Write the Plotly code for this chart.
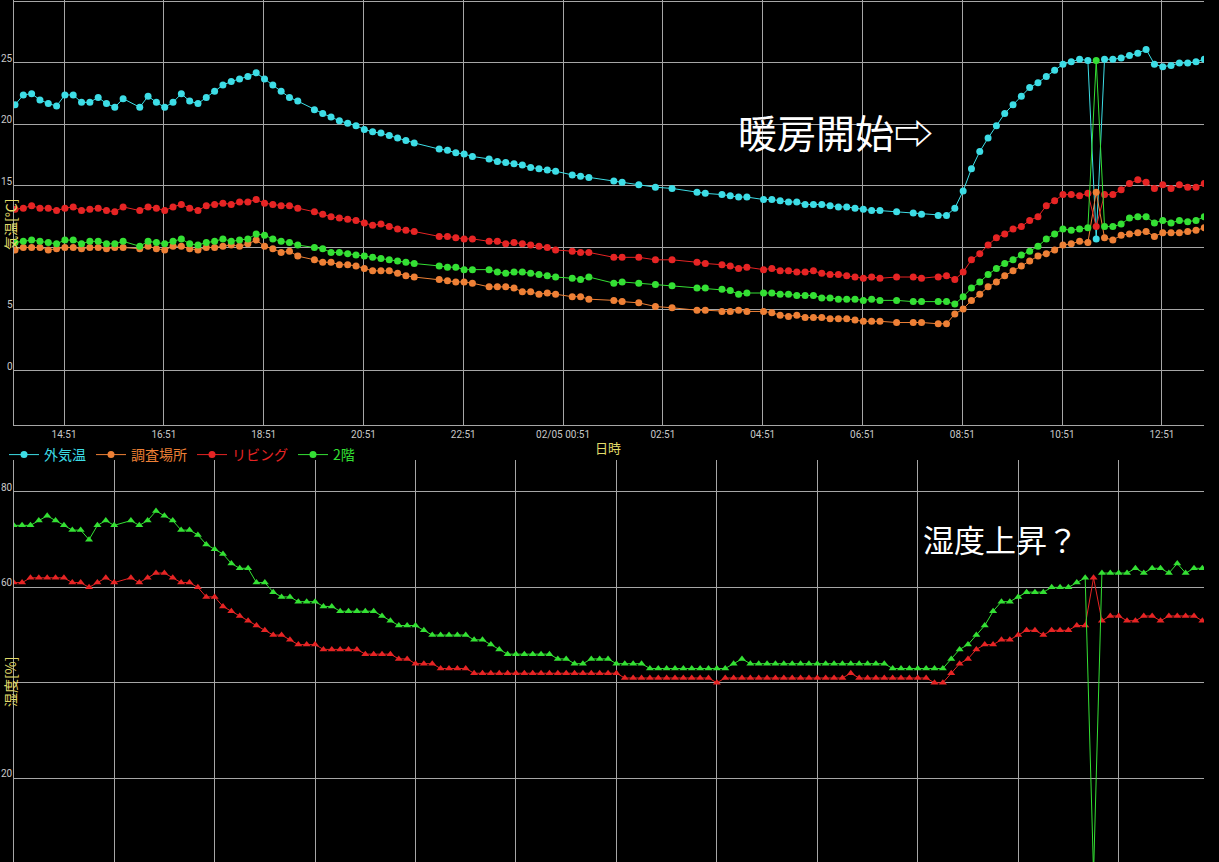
import pandas as pd
import plotly.graph_objects as go

W, H = 1219, 862
N = None

# ---------------- data ----------------
temp_times = pd.date_range("2024-02-04 13:52", periods=144, freq="10min")

outdoor_temp = [
    21.6, 22.4, 22.5, 22.0, 21.7, 21.5, 22.4, 22.4, 21.8, 21.8,
    22.2, 21.7, 21.4, 22.1, N, 21.4, 22.3, 21.8, 21.4, 21.8,
    22.5, 21.9, 21.7, 22.2, 22.7, 23.2, 23.5, 23.7, 23.9, 24.2,
    23.7, 23.2, 22.7, 22.2, 21.9, N, 21.2, 20.9, 20.6, 20.3,
    20.1, 19.9, 19.6, 19.4, 19.3, 19.1, 18.9, 18.7, 18.5, N,
    N, 18.0, 17.9, 17.7, 17.6, 17.4, N, 17.2, 17.0, 16.9,
    16.8, 16.7, 16.5, 16.4, 16.3, 16.2, N, 15.9, 15.8, 15.7,
    N, N, 15.4, 15.3, N, 15.1, N, 14.9, N, 14.8,
    N, N, 14.5, 14.4, N, 14.3, 14.2, 14.1, 14.1, N,
    13.9, 13.9, 13.8, 13.7, 13.7, 13.5, 13.5, 13.5, 13.4, 13.3,
    13.3, 13.2, 13.1, 13.0, 13.0, N, 12.9, N, 12.8, 12.7,
    N, 12.6, 12.6, 13.2, 14.6, 16.4, 17.8, 18.9, 19.9, 20.9,
    21.6, 22.3, 23.0, 23.4, 23.9, 24.4, 24.9, 25.1, 25.3, 25.2,
    10.7, 25.3, 25.3, 25.4, 25.6, 25.8, 26.1, 24.9, 24.7, 24.8,
    25.0, 25.0, 25.1, 25.3,
]
survey_temp = [
    9.8, 10.0, 10.0, 10.0, 9.8, 9.9, 10.0, 10.0, 9.9, 10.0,
    10.0, 9.9, 10.0, 10.0, N, 9.9, 10.1, 9.9, 9.8, 10.1,
    10.1, 9.9, 9.8, 10.0, 10.0, 10.1, 10.2, 10.1, 10.3, 10.6,
    10.1, 9.9, 9.6, 9.7, 9.3, N, 9.0, 8.8, 8.8, 8.6,
    8.6, 8.5, 8.3, 8.1, 8.1, 8.1, 7.9, 7.7, 7.6, N,
    N, 7.4, 7.3, 7.2, 7.2, 7.1, N, 6.8, 6.8, 6.8,
    6.7, 6.4, 6.4, 6.2, 6.3, 6.2, N, 6.0, 6.0, 5.8,
    N, N, 5.7, 5.6, N, 5.5, N, 5.2, N, 5.1,
    N, N, 4.9, 4.9, N, 4.8, 4.8, 4.9, 4.8, N,
    4.8, 4.7, 4.5, 4.4, 4.5, 4.3, 4.3, 4.3, 4.2, 4.2,
    4.2, 4.1, 4.0, 4.0, 4.0, N, 3.9, N, 3.9, 3.9,
    N, 3.8, 3.8, 4.6, 5.0, 5.7, 6.2, 6.8, 7.2, 7.7,
    8.1, 8.5, 8.9, 9.3, 9.5, 9.8, 10.2, 10.3, 10.5, 10.4,
    14.5, 10.8, 10.6, 11.0, 11.1, 11.2, 11.3, 10.9, 11.2, 11.2,
    11.2, 11.3, 11.4, 11.6,
]
living_temp = [
    13.1, 13.2, 13.4, 13.2, 13.2, 13.0, 13.2, 13.3, 13.0, 13.1,
    13.2, 13.0, 12.9, 13.3, N, 13.0, 13.3, 13.2, 13.0, 13.3,
    13.5, 13.2, 13.0, 13.4, 13.5, 13.6, 13.5, 13.7, 13.7, 13.9,
    13.6, 13.5, 13.4, 13.4, 13.2, N, 12.9, 12.7, 12.5, 12.4,
    12.3, 12.2, 12.0, 11.8, 11.9, 11.7, 11.5, 11.4, 11.3, N,
    N, 10.9, 10.9, 10.8, 10.7, 10.7, N, 10.5, 10.5, 10.3,
    10.4, 10.3, 10.2, 10.1, 10.0, 9.8, N, 9.7, 9.6, 9.6,
    N, N, 9.2, 9.2, N, 9.2, N, 9.0, N, 9.0,
    N, N, 8.8, 8.7, N, 8.6, 8.5, 8.3, 8.4, N,
    8.2, 8.3, 8.1, 8.1, 8.0, 8.0, 8.1, 7.9, 7.8, 7.8,
    7.7, 7.6, 7.5, 7.6, 7.5, N, 7.6, N, 7.6, 7.5,
    N, 7.6, 7.7, 7.4, 8.0, 9.0, 9.5, 10.2, 10.8, 11.1,
    11.5, 11.7, 12.2, 12.5, 13.4, 13.8, 14.3, 14.3, 14.2, 14.4,
    11.7, 14.3, 14.3, 14.7, 15.2, 15.5, 15.3, 14.8, 15.1, 14.8,
    15.1, 14.9, 14.9, 15.2,
]
upstairs_temp = [
    10.4, 10.5, 10.6, 10.5, 10.4, 10.3, 10.6, 10.6, 10.3, 10.5,
    10.5, 10.3, 10.3, 10.5, N, 10.1, 10.5, 10.4, 10.3, 10.5,
    10.7, 10.3, 10.2, 10.4, 10.5, 10.7, 10.5, 10.6, 10.7, 11.1,
    11.0, 10.7, 10.5, 10.4, 10.2, N, 10.0, 9.9, 9.6, 9.6,
    9.5, 9.4, 9.3, 9.2, 9.1, 9.0, 8.9, 8.8, 8.7, N,
    N, 8.5, 8.4, 8.4, 8.2, 8.2, N, 8.2, 8.0, 7.9,
    8.0, 8.0, 7.9, 7.8, 7.7, 7.6, N, 7.5, 7.4, 7.6,
    N, N, 7.1, 7.2, N, 7.1, N, 7.0, N, 6.9,
    N, N, 6.7, 6.7, N, 6.6, 6.5, 6.2, 6.3, N,
    6.3, 6.3, 6.2, 6.2, 6.1, 6.1, 6.1, 5.9, 5.9, 5.8,
    5.8, 5.8, 5.7, 5.8, 5.7, N, 5.7, N, 5.6, 5.6,
    N, 5.6, 5.6, 5.4, 6.0, 6.7, 7.2, 7.8, 8.3, 8.7,
    9.0, 9.4, 9.7, 10.1, 10.7, 11.1, 11.5, 11.4, 11.5, 11.6,
    25.2, 11.7, 11.7, 11.9, 12.4, 12.5, 12.5, 12.0, 12.2, 12.0,
    12.2, 12.1, 12.2, 12.5,
]

hum_times = temp_times[1:]
living_hum = [
    61, 61, 62, 62, 62, 62, 62, 61, 61, 60,
    61, 62, 61, N, 62, 61, 62, 63, 63, 62,
    61, 61, 60, 58, 58, 56, 55, 54, 53, 52,
    51, 50, 50, 49, 48, 48, 48, 47, 47, 47,
    47, 47, 46, 46, 46, 46, 45, 45, 44, 44,
    44, 43, 43, 43, 43, 42, 42, 42, 42, 42,
    42, 42, 42, 42, 42, 42, 42, 42, 42, 42,
    42, 42, 42, 41, 41, 41, 41, 41, 41, 41,
    41, 41, 41, 41, 40, 41, 41, 41, 41, 41,
    41, 41, 41, 41, 41, 41, 41, 41, 41, 41,
    42, 41, 41, 41, 41, 41, 41, 41, 41, 41,
    40, 40, 42, 44, 45, 47, 48, 48, 49, 49,
    50, 51, 51, 50, 51, 51, 51, 52, 52, 62,
    53, 54, 54, 53, 53, 54, 54, 53, 54, 54,
    54, 54, 53,
]
upstairs_hum = [
    73, 73, 73, 74, 75, 74, 73, 72, 72, 70,
    73, 74, 73, N, 74, 73, 74, 76, 75, 74,
    72, 72, 71, 69, 68, 67, 65, 64, 64, 61,
    61, 59, 58, 58, 57, 57, 57, 56, 56, 55,
    55, 55, 55, 55, 54, 53, 52, 52, 52, 51,
    50, 50, 50, 50, 50, 49, 49, 48, 47, 46,
    46, 46, 46, 46, 46, 45, 45, 44, 44, 45,
    45, 45, 44, 44, 44, 44, 43, 43, 43, 43,
    43, 43, 43, 43, 43, 43, 44, 45, 44, 44,
    44, 44, 44, 44, 44, 44, 44, 44, 44, 44,
    44, 44, 44, 44, 44, 43, 43, 43, 43, 43,
    43, 43, 45, 47, 48, 50, 52, 55, 57, 57,
    58, 59, 59, 59, 60, 60, 60, 61, 62, 0,
    63, 63, 63, 63, 64, 63, 64, 64, 63, 65,
    63, 64, 64,
]

temp_tickvals = pd.date_range("2024-02-04 14:51", periods=12, freq="2h")
temp_ticktext = ["14:51", "16:51", "18:51", "20:51", "22:51", "02/05 00:51",
                 "02:51", "04:51", "06:51", "08:51", "10:51", "12:51"]
temp_ylabels = [0, 5, 15, 20, 25]
hum_gridvals = pd.date_range("2024-02-04 16:02", periods=11, freq="2h")
hum_ylabels = [20, 60, 80]

series_names = ["外気温", "調査場所", "リビング", "2階"]
series_colors = ["#3ddde6", "#ee8036", "#e62424", "#34e034"]

# ---------------- figure ----------------
def px_x(p):
    return p / W

def px_y(p):
    return 1 - p / H

GRID = "#a6a6a6"
fig = go.Figure()

temp_series = [outdoor_temp, survey_temp, living_temp, upstairs_temp]
for name, color, vals in zip(series_names, series_colors, temp_series):
    fig.add_trace(go.Scatter(
        x=temp_times, y=vals, mode="lines+markers", connectgaps=True,
        name=f'<span style="color:{color}">{name}</span>',
        line=dict(color=color, width=1),
        marker=dict(color=color, size=7, symbol="circle"),
        xaxis="x", yaxis="y",
    ))

for name, color, vals in [("リビング", series_colors[2], living_hum),
                          ("2階", series_colors[3], upstairs_hum)]:
    fig.add_trace(go.Scatter(
        x=hum_times, y=vals, mode="lines+markers", connectgaps=True,
        name=name, showlegend=False,
        line=dict(color=color, width=1),
        marker=dict(color=color, size=7, symbol="triangle-up"),
        xaxis="x2", yaxis="y2",
    ))

xdom = [px_x(14), px_x(1204)]
tick_font = dict(family="Roboto", size=10, color="#c8c8c8")

fig.update_layout(
    width=W, height=H,
    margin=dict(l=0, r=0, t=0, b=0),
    paper_bgcolor="black", plot_bgcolor="black",
    showlegend=True,
    xaxis=dict(domain=xdom, anchor="y", type="date",
               range=["2024-02-04 13:50:48", "2024-02-05 13:41:36"],
               tickmode="array", tickvals=temp_tickvals, ticktext=temp_ticktext,
               showgrid=True, gridcolor=GRID, gridwidth=1,
               showline=True, linecolor=GRID, linewidth=1,
               ticks="", tickfont=tick_font, zeroline=False),
    yaxis=dict(domain=[px_y(425), px_y(0)], anchor="x",
               range=[-4.43, 30.12], tick0=0, dtick=5,
               showgrid=True, gridcolor=GRID, gridwidth=1,
               showline=True, linecolor=GRID, linewidth=1,
               showticklabels=False, ticks="", zeroline=False),
    xaxis2=dict(domain=xdom, anchor="y2", type="date",
                range=["2024-02-04 14:02:21", "2024-02-05 13:43:57"],
                tickmode="array", tickvals=hum_gridvals,
                showticklabels=False,
                showgrid=True, gridcolor=GRID, gridwidth=1,
                showline=False, ticks="", zeroline=False),
    yaxis2=dict(domain=[0, px_y(460)], anchor="x2",
                range=[2.43, 86.7], tick0=0, dtick=20,
                showgrid=True, gridcolor=GRID, gridwidth=1,
                showline=True, linecolor=GRID, linewidth=1,
                showticklabels=False, ticks="", zeroline=False),
    legend=dict(orientation="h", x=px_x(4), xanchor="left",
                y=px_y(455), yanchor="middle",
                font=dict(family="Noto Sans CJK JP", size=14),
                bgcolor="rgba(0,0,0,0)", itemwidth=30, tracegroupgap=0),
)

ann = []
for v in temp_ylabels:
    ann.append(dict(x=px_x(15), xref="paper", xanchor="right", y=v, yref="y",
                    yanchor="bottom", yshift=-3, text=str(v), showarrow=False,
                    font=tick_font))
for v in hum_ylabels:
    ann.append(dict(x=px_x(15), xref="paper", xanchor="right", y=v, yref="y2",
                    yanchor="bottom", yshift=-3, text=str(v), showarrow=False,
                    font=tick_font))

yellow = "#e2dc6a"
ann.append(dict(x=px_x(10), y=px_y(225), xref="paper", yref="paper",
                xanchor="center", yanchor="middle",
                text="気温[℃]", textangle=-90, showarrow=False,
                font=dict(family="Noto Sans CJK JP", size=14, color=yellow)))
ann.append(dict(x=px_x(10), y=px_y(682), xref="paper", yref="paper",
                xanchor="center", yanchor="middle",
                text="湿度[%]", textangle=-90, showarrow=False,
                font=dict(family="Noto Sans CJK JP", size=14, color=yellow)))
ann.append(dict(x=px_x(608), y=px_y(447), xref="paper", yref="paper",
                xanchor="center", yanchor="middle",
                text="日時", showarrow=False,
                font=dict(family="Noto Sans CJK JP", size=13, color=yellow)))
ann.append(dict(x=px_x(835), y=px_y(131), xref="paper", yref="paper",
                xanchor="center", yanchor="middle",
                text="暖房開始<b>⇨</b>", showarrow=False,
                font=dict(family="Noto Sans CJK JP", size=39, color="white")))
ann.append(dict(x=px_x(1000), y=px_y(538), xref="paper", yref="paper",
                xanchor="center", yanchor="middle",
                text="湿度上昇？", showarrow=False,
                font=dict(family="Noto Sans CJK JP", size=31, color="white")))
fig.update_layout(annotations=ann)

fig.write_html("out.html",
               config={"displayModeBar": False},
               post_script="document.body.style.margin='0';document.body.style.overflow='hidden';")
